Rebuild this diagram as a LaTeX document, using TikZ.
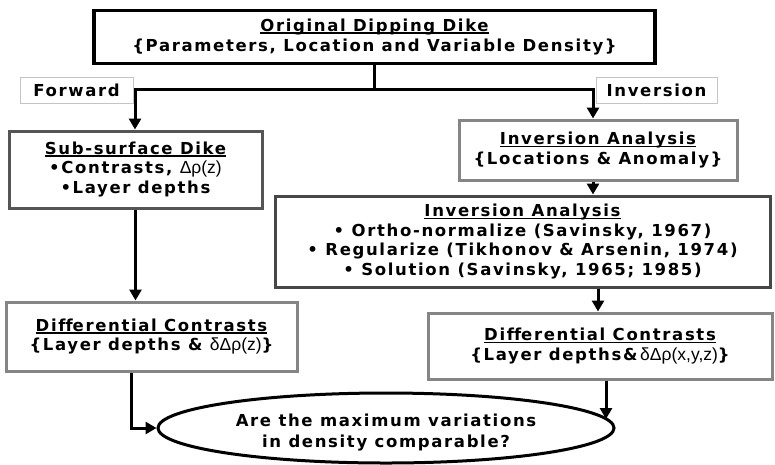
\documentclass[tikz,border=0pt]{standalone}
\usepackage{fontspec}
\usetikzlibrary{arrows.meta,shapes.geometric}
\setmainfont{DejaVu Sans}
\newfontfamily\mainbold{DejaVu Sans Bold}[LetterSpace=10,Ligatures={NoCommon}]
\newfontfamily\greekreg{Liberation Sans}
\newcommand\ulx[1]{\setbox0\hbox{#1}\rlap{\rule[-2.4pt]{\wd0}{1.4pt}}\box0}
\newcommand\gk[1]{{\greekreg\fontsize{17.5}{19.5}\selectfont #1}}
\definecolor{bdA}{HTML}{555555}
\definecolor{bdB}{HTML}{858585}
\definecolor{bdC}{HTML}{474747}
\definecolor{bdL}{HTML}{C4C4C4}
\begin{document}
\begin{tikzpicture}[x=1pt,y=-1pt,
  box/.style={draw, rectangle, line width=3pt, fill=white, align=center, inner sep=0pt,
    font=\mainbold\fontsize{16.5}{19.5}\selectfont},
  lbl/.style={draw=bdL, rectangle, line width=1pt, fill=white, align=center, inner sep=0pt,
    font=\mainbold\fontsize{16.5}{19.5}\selectfont},
  txt/.style={align=center, inner sep=0pt, font=\mainbold\fontsize{16.5}{21}\selectfont},
  arr/.style={line width=3pt, -{Triangle[length=11pt,width=12pt]}}]
\useasboundingbox (0,0) rectangle (775,464);
\fill[white] (0,0) rectangle (775,464);

\node[box, draw=black, line width=3.8pt, minimum width=561pt, minimum height=53pt,
  font=\mainbold\fontsize{16.5}{20.5}\selectfont] (top) at (374.5,37)
  {\ulx{Original Dipping Dike}\\\{Parameters, Location and Variable Density\}};
\node[lbl, minimum width=113pt, minimum height=26pt] (fwd) at (76.5,90) {Forward};
\node[lbl, minimum width=121pt, minimum height=26pt] (inv) at (656.5,90) {Inversion};

\node[box, draw=bdA, minimum width=253pt, minimum height=77pt] (sub) at (135.5,169.5)
  {\ulx{Sub-surface Dike}\\•Contrasts, \gk{Δρ(z)}\\•Layer depths};
\node[box, draw=bdB, minimum width=278pt, minimum height=60pt] (ia1) at (598,150)
  {\ulx{Inversion Analysis}\\\{Locations \& Anomaly\}};
\node[box, draw=bdC, minimum width=495pt, minimum height=91pt] (ia2) at (522.5,241.5)
  {\ulx{Inversion Analysis}\\• Ortho-normalize (Savinsky, 1967)\\• Regularize (Tikhonov \& Arsenin, 1974)\\• Solution (Savinsky, 1965; 1985)};
\node[box, draw=bdB, minimum width=291pt, minimum height=69pt] (dcl) at (151.5,336.5)
  {\ulx{Dif\kern0ptf\kern0pterential Contrasts}\\\{Layer depths \& \gk{δΔρ(z)}\}};
\node[box, draw=bdB, minimum width=344pt, minimum height=66pt] (dcr) at (600,346)
  {\ulx{Dif\kern0ptf\kern0pterential Contrasts}\\\{Layer depths\&\,\gk{δΔρ(x,y,z)}\}};
\node[box, ellipse, draw=black, minimum width=456pt, minimum height=70pt] (ell) at (386,428) {};
\node[txt] (elltext) at (386,433) {Are the maximum variations\\in density comparable?};

\coordinate (jl) at (135,89);
\coordinate (jr) at (593,89);
\coordinate (xr) at (598,0);
\coordinate (xl) at (131,0);
\coordinate (er) at (606,419);
\draw[arr] (top.south) |- (jl) -- (jl |- sub.north);
\draw[arr] (top.south) |- (jr) -- (jr |- ia1.north);
\draw[arr] (jr |- ia1.south) -- (jr |- ia2.north);
\draw[arr] (xr |- ia2.south) -- (xr |- dcr.north);
\draw[arr] (sub.south) -- (sub.south |- dcl.north);
\draw[arr] (xl |- dcl.south) |- (ell.west);
\draw[arr] (er |- dcr.south) -- (er);
\end{tikzpicture}
\end{document}
